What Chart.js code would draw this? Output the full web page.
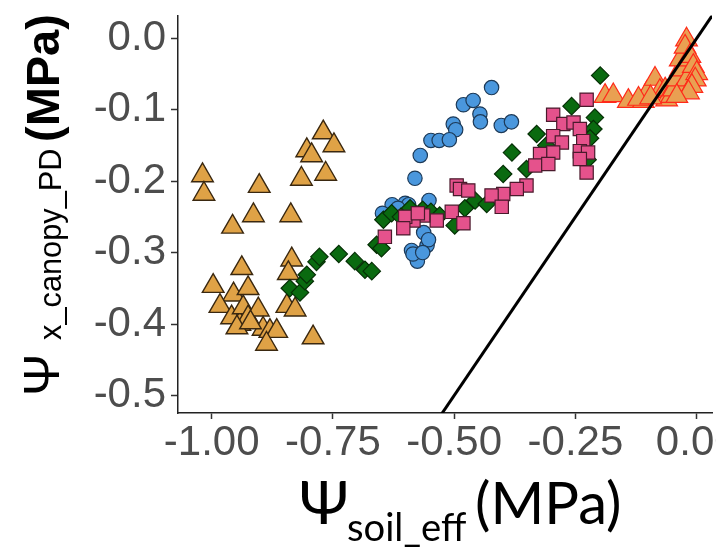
<!DOCTYPE html>
<html><head><meta charset="utf-8">
<script src="https://cdn.jsdelivr.net/npm/chart.js@4.4.1/dist/chart.umd.min.js"></script>
<style>
html,body{margin:0;padding:0;background:#fff;overflow:hidden}
#wrap{position:relative;width:716px;height:547px;overflow:hidden;background:#fff}
</style></head><body>
<div id="wrap"><canvas id="c" width="760" height="547"></canvas></div>
<script>
// ---- tick labels ----
const xTicks = [-1.0, -0.75, -0.5, -0.25, 0.0];
const yTicks = [0.0, -0.1, -0.2, -0.3, -0.4, -0.5];

// ---- series ----
const blueX = [-0.423,-0.481,-0.461,-0.447,-0.446,-0.403,-0.382,-0.502,-0.497,-0.548,-0.531,-0.510,-0.570,-0.581,-0.628,-0.601,-0.594,-0.616,-0.552,-0.648,-0.563,-0.588,-0.556,-0.578,-0.576,-0.553,-0.585,-0.565];
const blueY = [-0.069,-0.093,-0.087,-0.106,-0.117,-0.122,-0.117,-0.120,-0.128,-0.143,-0.143,-0.142,-0.164,-0.196,-0.233,-0.231,-0.233,-0.238,-0.227,-0.245,-0.272,-0.297,-0.290,-0.306,-0.312,-0.282,-0.302,-0.300];

const greenX = [-0.839,-0.818,-0.808,-0.804,-0.784,-0.778,-0.738,-0.705,-0.684,-0.670,-0.660,-0.650,-0.646,-0.629,-0.610,-0.591,-0.565,-0.548,-0.530,-0.499,-0.478,-0.457,-0.433,-0.399,-0.381,-0.351,-0.330,-0.310,-0.258,-0.210,-0.213,-0.199,-0.225,-0.220];
const greenY = [-0.350,-0.356,-0.340,-0.331,-0.313,-0.306,-0.302,-0.312,-0.324,-0.326,-0.289,-0.294,-0.254,-0.245,-0.250,-0.238,-0.240,-0.243,-0.248,-0.262,-0.238,-0.227,-0.232,-0.190,-0.160,-0.183,-0.134,-0.150,-0.095,-0.111,-0.127,-0.052,-0.170,-0.140];

const pinkX = [-0.227,-0.296,-0.275,-0.254,-0.241,-0.296,-0.278,-0.234,-0.241,-0.224,-0.296,-0.323,-0.333,-0.306,-0.241,-0.227,-0.351,-0.371,-0.399,-0.423,-0.402,-0.495,-0.488,-0.471,-0.505,-0.481,-0.536,-0.564,-0.584,-0.601,-0.605,-0.643,-0.575];
const pinkY = [-0.086,-0.107,-0.120,-0.118,-0.127,-0.137,-0.146,-0.144,-0.158,-0.160,-0.160,-0.162,-0.178,-0.176,-0.169,-0.188,-0.206,-0.211,-0.218,-0.220,-0.236,-0.206,-0.211,-0.213,-0.243,-0.259,-0.255,-0.248,-0.255,-0.250,-0.266,-0.278,-0.245];

const orangeX = [-1.019,-1.016,-0.902,-0.914,-0.957,-0.837,-0.770,-0.748,-0.804,-0.794,-0.815,-0.765,-0.938,-0.997,-0.955,-0.925,-0.983,-0.959,-0.942,-0.935,-0.925,-0.904,-0.894,-0.880,-0.866,-0.887,-0.791,-0.835,-0.842,-0.845,-0.828,-0.948,-0.920];
const orangeY = [-0.192,-0.218,-0.207,-0.248,-0.264,-0.248,-0.132,-0.150,-0.157,-0.164,-0.197,-0.190,-0.322,-0.347,-0.359,-0.350,-0.375,-0.391,-0.400,-0.377,-0.391,-0.380,-0.407,-0.410,-0.410,-0.428,-0.419,-0.310,-0.329,-0.375,-0.380,-0.405,-0.398];

const redTriX = [-0.189,-0.172,-0.141,-0.110,-0.103,-0.086,-0.076,-0.065,-0.062,-0.052,-0.048,-0.041,-0.034,-0.034,-0.028,-0.021,-0.021,-0.024,-0.014,-0.007,0.000,-0.003,-0.010,-0.017,-0.041,-0.120,-0.095];
const redTriY = [-0.081,-0.080,-0.088,-0.088,-0.077,-0.057,-0.074,-0.072,-0.086,-0.081,-0.072,-0.058,-0.044,-0.030,-0.072,-0.058,-0.002,-0.012,-0.025,-0.039,-0.049,-0.058,-0.067,-0.076,-0.081,-0.085,-0.083];

// 1:1 reference line (x = y)
const oneToOne = [-0.6, 0.1];

const pts = (xs, ys) => xs.map((x, i) => ({x: x, y: ys[i]}));

const titlePlugin = {
  id: 'titles',
  afterDraw(chart) {
    const ctx = chart.ctx;
    function fitSize(text, weight, family, inkWidth) {
      ctx.font = weight + ' 100px ' + family;
      const m = ctx.measureText(text);
      return 100 * inkWidth / (m.actualBoundingBoxLeft + m.actualBoundingBoxRight);
    }
    function drawAt(text, weight, size, family, a, y) {
      ctx.font = weight + ' ' + size + 'px ' + family;
      const m = ctx.measureText(text);
      ctx.fillText(text, a + m.actualBoundingBoxLeft, y);
      return a + m.actualBoundingBoxLeft + m.actualBoundingBoxRight;
    }
    function drawEnd(text, weight, size, family, b, y) {
      ctx.font = weight + ' ' + size + 'px ' + family;
      const m = ctx.measureText(text);
      ctx.fillText(text, b - m.actualBoundingBoxRight, y);
    }
    ctx.save();
    ctx.fillStyle = '#000';
    ctx.textAlign = 'left';
    ctx.textBaseline = 'alphabetic';
    // y title (rotated, reads bottom to top)
    ctx.save();
    ctx.translate(59, 0);
    ctx.rotate(-Math.PI / 2);
    const yf = '"Liberation Sans", Arial, sans-serif';
    const ySize = fitSize('(MPa)', 'bold', yf, 124);
    const ySub = fitSize('x_canopy_PD', 'normal', yf, 190);
    drawEnd('\u03A8', 'normal', ySize * 1.08, yf, -357, 0);
    drawAt('x_canopy_PD', 'normal', ySub, yf, -340, 2);
    drawAt('(MPa)', 'bold', ySize, yf, -140, 0);
    ctx.restore();
    // x title
    const xf = 'Lato, "Open Sans", sans-serif';
    const xSize = fitSize('(MPa)', 'normal', xf, 142);
    const xSub = fitSize('soil_eff', 'normal', xf, 118);
    drawAt('\u03A8', 'normal', xSize * 1.05, xf, 302, 524);
    drawAt('soil_eff', 'normal', xSub, xf, 348, 541);
    drawAt('(MPa)', 'normal', xSize, xf, 477, 524);
    ctx.restore();
  }
};

const tickFont = {family: '"Liberation Sans", Arial, sans-serif', size: 42};

new Chart(document.getElementById('c'), {
  type: 'scatter',
  data: {
    datasets: [
      {
        label: '1:1', data: pts(oneToOne, oneToOne), showLine: true,
        borderColor: '#000', borderWidth: 3, pointRadius: 0, fill: false
      },
      {
        label: 'pink', data: pts(pinkX, pinkY), pointStyle: 'rect', pointRadius: 9.4,
        backgroundColor: '#E5528C', borderColor: '#4a1a2c', borderWidth: 1.2
      },
      {
        label: 'green', data: pts(greenX, greenY), pointStyle: 'rectRot', pointRadius: 8.7,
        backgroundColor: '#0A6A10', borderColor: '#063006', borderWidth: 1.2
      },
      {
        label: 'blue', data: pts(blueX, blueY), pointStyle: 'circle', pointRadius: 7.2,
        backgroundColor: '#4A97DD', borderColor: '#1d3a58', borderWidth: 1.2
      },
      {
        label: 'red', data: pts(redTriX, redTriY), pointStyle: 'triangle', pointRadius: 12.5,
        backgroundColor: '#E9A052', borderColor: '#FF2A1A', borderWidth: 1.2
      },
      {
        label: 'orange', data: pts(orangeX, orangeY), pointStyle: 'triangle', pointRadius: 12.5,
        backgroundColor: '#DFA246', borderColor: '#3a2810', borderWidth: 1.4
      }
    ]
  },
  options: {
    responsive: false,
    animation: false,
    devicePixelRatio: 1,
    layout: {padding: {left: 0, right: 48, top: 12, bottom: 0}},
    plugins: {legend: {display: false}, tooltip: {enabled: false}},
    scales: {
      x: {
        type: 'linear', min: -1.0695, max: 0.0315,
        afterBuildTicks: s => { s.ticks = xTicks.map(v => ({value: v})); },
        afterFit: s => { s.height = 134; },
        grid: {display: true, drawOnChartArea: false, drawTicks: true, tickLength: 6, tickColor: '#333', tickWidth: 1.5},
        border: {display: true, color: '#222', width: 1.5},
        ticks: {
          autoSkip: false, maxRotation: 0, minRotation: 0, padding: 3,
          color: '#4D4D4D', font: Object.assign({lineHeight: 1}, tickFont),
          callback: v => Number(v).toFixed(2)
        }
      },
      y: {
        type: 'linear', min: -0.5246, max: 0.0319,
        afterBuildTicks: s => { s.ticks = yTicks.map(v => ({value: v})); },
        afterFit: s => { s.width = 178; },
        grid: {display: true, drawOnChartArea: false, drawTicks: true, tickLength: 7, tickColor: '#333', tickWidth: 1.5},
        border: {display: true, color: '#222', width: 1.5},
        ticks: {
          autoSkip: false, padding: 5,
          color: '#4D4D4D', font: Object.assign({lineHeight: 0.5}, tickFont),
          callback: v => Number(v).toFixed(1)
        }
      }
    }
  },
  plugins: [titlePlugin]
});
</script>
</body></html>
